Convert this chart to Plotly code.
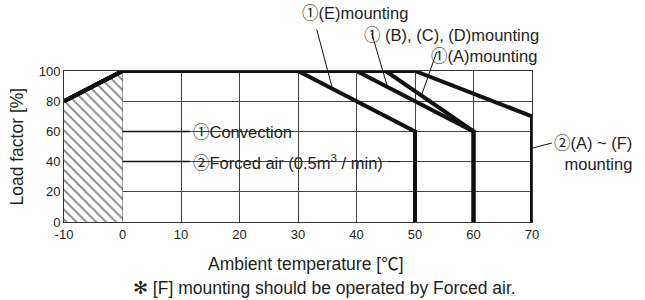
import plotly.graph_objects as go

# ---- data ----
temp_E = [-10, 0, 30, 50, 50]
load_E = [80, 100, 100, 60, 0]
temp_BCD = [-10, 0, 40, 60, 60]
load_BCD = [80, 100, 100, 60, 0]
temp_A = [-10, 0, 45, 60, 60]
load_A = [80, 100, 100, 60, 0]
temp_forced = [-10, 0, 50, 70, 70]
load_forced = [80, 100, 100, 70, 0]
hatch_temp = [-10, -10, 0, 0, -10]
hatch_load = [0, 80, 100, 0, 0]
x_ticks = [-10, 0, 10, 20, 30, 40, 50, 60, 70]
y_ticks = [0, 20, 40, 60, 80, 100]
X_RANGE = [-10, 70]
Y_RANGE = [0, 100]

TXT = "#231f20"
FONT = "Arial, Liberation Sans, Noto Sans CJK JP, sans-serif"
LBL = 16.5

def px(x):
    return (x - X_RANGE[0]) / (X_RANGE[1] - X_RANGE[0])

def py(y):
    return (y - Y_RANGE[0]) / (Y_RANGE[1] - Y_RANGE[0])

def c(s):
    return "<span style='font-family:Noto Sans CJK JP'>" + s + "</span>"

fig = go.Figure()
fig.add_trace(go.Scatter(x=hatch_temp, y=hatch_load, mode="lines", fill="toself",
                         line=dict(width=0), fillcolor="rgba(0,0,0,0)",
                         fillpattern=dict(shape="\\", size=7, solidity=0.25,
                                          fgcolor="#000", bgcolor="white"),
                         hoverinfo="skip", showlegend=False))
for tx, ly in [(temp_forced, load_forced), (temp_A, load_A), (temp_BCD, load_BCD), (temp_E, load_E)]:
    fig.add_trace(go.Scatter(x=tx, y=ly, mode="lines",
                             line=dict(color="#111", width=4, simplify=False),
                             showlegend=False, hoverinfo="skip"))

shapes = []
def leader(x0, y0, x1, y1, w=1):
    shapes.append(dict(type="line", xref="paper", yref="paper",
                       x0=px(x0), y0=py(y0), x1=px(x1), y1=py(y1),
                       line=dict(color="#111", width=w)))

# leaders for inside labels
leader(0, 60, 11.5, 60, 1.5)
leader(0, 40, 11.5, 40, 1.5)
leader(45.3, 40, 47.4, 40, 1)
# leaders for outside labels
leader(35.9, 88.2, 33.2, 127.5)
leader(45.3, 89.4, 42.6, 125)
leader(51.1, 83.7, 53.7, 112.6)
leader(70.1, 49, 73.4, 52.3)

ann = []
def label(x, y, t, xa="left", ya="middle", align="left", size=LBL, angle=0):
    ann.append(dict(x=px(x), y=py(y), xref="paper", yref="paper", text=t, showarrow=False,
                    xanchor=xa, yanchor=ya, align=align, textangle=angle,
                    font=dict(size=size, color=TXT, family=FONT)))

label(30.4, 139, c("①") + "(E)mounting")
label(41.0, 124.5, c("①") + " (B), (C), (D)mounting")
label(52.4, 110.5, c("①") + "(A)mounting")
label(73.5, 46.4, c("②") + "(A) ~ (F)<br>mounting", align="right")
label(11.7, 60, c("①") + "Convection")
label(11.7, 40, c("②") + "Forced air (0.5m<sup>3</sup> / min)")
label(31.3, -27.5, "Ambient temperature [℃]", xa="center", size=17.5)
label(-18.2, 50, "Load factor [%]", xa="center", size=17.5, angle=-90)
label(34.5, -44, "✻ [F] mounting should be operated by Forced air.", xa="center", size=17.5)

fig.update_layout(
    width=645, height=300,
    margin=dict(l=64, r=113, t=71, b=78, autoexpand=False),
    paper_bgcolor="white", plot_bgcolor="white",
    annotations=ann, shapes=shapes,
    font=dict(family=FONT, color=TXT),
    xaxis=dict(range=X_RANGE, tickvals=x_ticks, ticktext=[str(v) for v in x_ticks],
               showgrid=True, gridcolor="#444", gridwidth=1, zeroline=False,
               showline=True, linecolor="#333", linewidth=1, mirror=True,
               ticks="", tickfont=dict(size=13, color=TXT), automargin=False),
    yaxis=dict(range=Y_RANGE, tickvals=y_ticks, ticktext=[str(v) for v in y_ticks],
               showgrid=True, gridcolor="#444", gridwidth=1, zeroline=False,
               showline=True, linecolor="#333", linewidth=1, mirror=True,
               ticks="", tickfont=dict(size=13, color=TXT), automargin=False),
)

fig.write_html("out.html", config={"displayModeBar": False},
               post_script="document.body.style.margin='0';document.body.style.padding='0';")
